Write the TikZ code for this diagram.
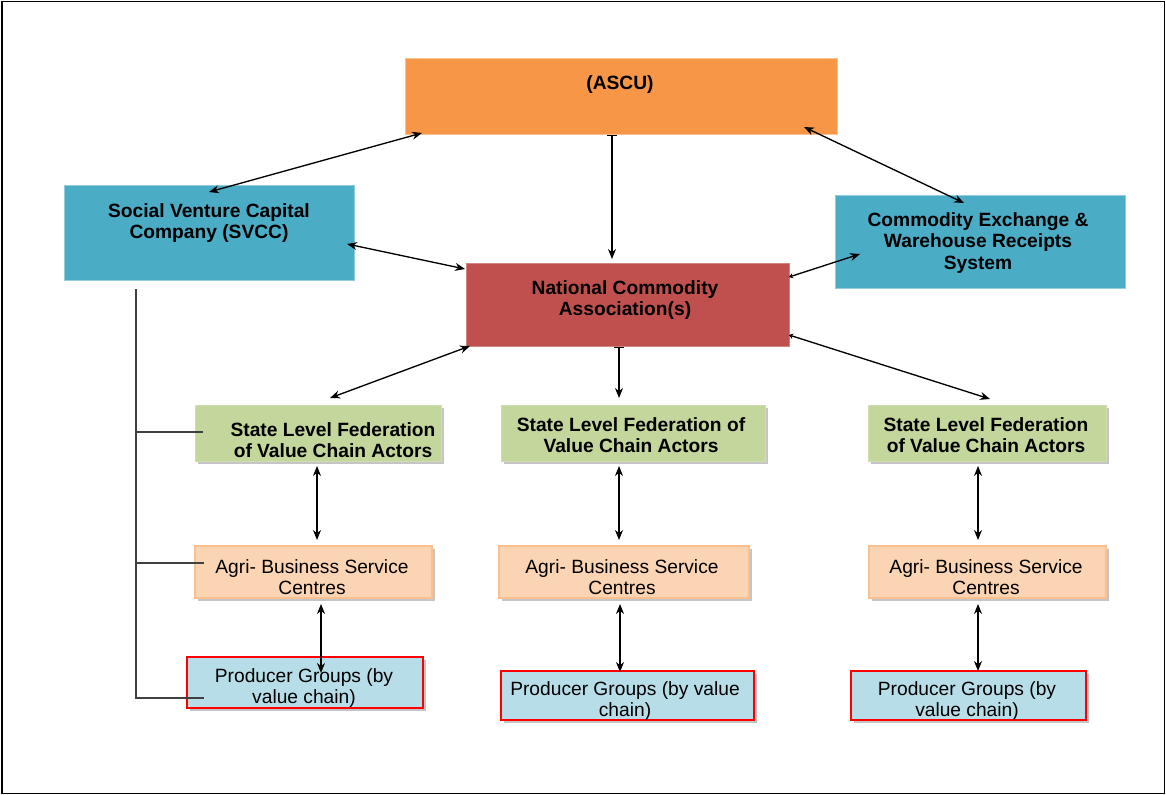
\documentclass[tikz,border=0pt]{standalone}
\usepackage{fontspec}
\setmainfont{Liberation Sans}
\usetikzlibrary{arrows.meta,fit,calc,shadows}
\definecolor{ascuC}{HTML}{F79646}
\definecolor{blueC}{HTML}{4BACC6}
\definecolor{ncaC}{HTML}{C0504D}
\definecolor{slfC}{HTML}{C3D69B}
\definecolor{abscC}{HTML}{FBD4B4}
\definecolor{abscB}{HTML}{FAC08F}
\definecolor{pgC}{HTML}{B7DEE8}
\tikzset{
  box/.style={inner sep=0pt, outer sep=0pt},
  topbox/.style={box, line width=0.6pt},
  shad/.style={drop shadow={shadow xshift=2pt, shadow yshift=-2pt, fill=black!45, opacity=0.5}},
  txt/.style={inner sep=0pt, align=center, font=\fontsize{14.4}{16.2}\selectfont},
  btxt/.style={txt, font=\fontsize{14.4}{16.2}\selectfont\bfseries},
  link/.style={draw=black, line width=1pt},
  both/.style={link, {Stealth[length=7.5pt,width=6pt]}-{Stealth[length=7.5pt,width=6pt]}},
  barred/.style={link, {Bar[width=7pt]}-{Stealth[length=7.5pt,width=6pt]}},
  smallhead/.style={link, {Stealth[length=3pt,width=4pt]}-{Stealth[length=7.5pt,width=6pt]}},
  bracket/.style={draw=black!75, line width=0.9pt}
}
\begin{document}
\begin{tikzpicture}[x=0.75pt,y=-0.75pt]
\useasboundingbox (0,0) rectangle (1166,795);
\draw[line width=1.3pt] (2,1.5) rectangle (1164.5,793.5);

% top level boxes
\node[topbox, fill=ascuC, draw=ascuC!60!white, fit={(405,58) (837,134)}] (ascu) {};
\node[btxt] (ascuT) at (620,85) {(ASCU)};
\node[topbox, fill=blueC, draw=blueC!60!white, fit={(64,185) (354,280)}] (svcc) {};
\node[btxt] (svccT) at (209,223) {Social Venture Capital\\Company (SVCC)};
\node[topbox, fill=blueC, draw=blueC!60!white, fit={(835,195) (1125,288)}] (ce) {};
\node[btxt] (ceT) at (978,243) {Commodity Exchange \&\\Warehouse Receipts\\System};
\node[topbox, fill=ncaC, draw=ncaC!70!white, fit={(466,263) (789,346)}] (nca) {};
\node[btxt] (ncaT) at (625,300) {National Commodity\\Association(s)};

% state level federations
\node[box, shad, fill=slfC, draw=slfC!80!white, fit={(195,405) (441,461)}] (slf1) {};
\node[btxt] (slf1T) at (333,440) {State Level Federation\\of Value Chain Actors};
\node[box, shad, fill=slfC, draw=slfC!80!white, fit={(501,405) (765,461)}] (slf2) {};
\node[btxt] (slf2T) at (631,435) {State Level Federation of\\Value Chain Actors};
\node[box, shad, fill=slfC, draw=slfC!80!white, fit={(868,405) (1106,461)}] (slf3) {};
\node[btxt] (slf3T) at (986,435) {State Level Federation\\of Value Chain Actors};

% agri-business service centres
\node[box, shad, fill=abscC, draw=abscB, line width=0.9pt, fit={(195,546) (432,598)}] (absc1) {};
\node[txt] (absc1T) at (312,577) {Agri- Business Service\\Centres};
\node[box, shad, fill=abscC, draw=abscB, line width=0.9pt, fit={(499,546) (749,598)}] (absc2) {};
\node[txt] (absc2T) at (622,577) {Agri- Business Service\\Centres};
\node[box, shad, fill=abscC, draw=abscB, line width=0.9pt, fit={(869,546) (1106,598)}] (absc3) {};
\node[txt] (absc3T) at (986,577) {Agri- Business Service\\Centres};

% producer groups
\node[box, shad, fill=pgC, draw=red, line width=0.9pt, fit={(187,657) (423,708)}] (pg1) {};
\node[txt] (pg1T) at (304,688) {Producer Groups (by\\value chain)};
\node[box, shad, fill=pgC, draw=red, line width=0.9pt, fit={(501,671) (754,720)}] (pg2) {};
\node[txt] (pg2T) at (625,701) {Producer Groups (by value\\chain)};
\node[box, shad, fill=pgC, draw=red, line width=0.9pt, fit={(851,671) (1086,720)}] (pg3) {};
\node[txt] (pg3T) at (967,701) {Producer Groups (by\\value chain)};

% connectors between top boxes
\draw[both] ($(ascu.south west)+(17,-1)$) -- ($(svcc.north)+(0,7)$);
\draw[both] ($(ascu.south east)+(-33,-7)$) -- ($(ce.north)+(-16,8)$);
\draw[barred] ($(ascu.south)+(-9,1)$) -- ($(nca.north)+(-15.5,-4)$);
\draw[both] ($(svcc.east)+(-7,11.5)$) -- ($(nca.west)+(-1,-35.5)$);
\draw[smallhead] ($(nca.east)+(0,-27.5)$) -- ($(ce.west)+(25,12.5)$);

% national to state level
\draw[both] ($(nca.south west)+(4,0)$) -- ($(slf1.north)+(12,-7)$);
\draw[barred] ($(nca.south)+(-8.5,1)$) -- ($(slf2.north)+(-14,-7)$);
\draw[smallhead] ($(nca.south east)+(0,-11)$) -- ($(slf3.north)+(3,-6)$);

% vertical chains
\draw[both] ($(slf1.south)+(-1,5)$) -- ($(absc1.north)+(3.5,-6)$);
\draw[both] ($(slf2.south)+(-14,5)$) -- ($(absc2.north)+(-5,-6)$);
\draw[both] ($(slf3.south)+(-9,5)$) -- ($(absc3.north)+(-9.5,-6)$);
\draw[both] ($(absc1.south)+(7.5,6)$) -- ($(pg1.north)+(16,16)$);
\draw[both] ($(absc2.south)+(-4,6)$) -- ($(pg2.north)+(-7.5,1)$);
\draw[both] ($(absc3.south)+(-9.5,6)$) -- ($(pg3.north)+(9.5,0)$);

% left bracket
\coordinate (brtop) at ($(svcc.south west)+(72,9)$);
\draw[bracket] (brtop) |- ($(pg1.west)+(17,15.5)$);
\draw[bracket] ($(brtop |- slf1.west)+(0,-1)$) -- ($(slf1.west)+(8,-1)$);
\draw[bracket] ($(brtop |- absc1.west)+(0,-9)$) -- ($(absc1.west)+(9,-9)$);
\end{tikzpicture}
\end{document}
